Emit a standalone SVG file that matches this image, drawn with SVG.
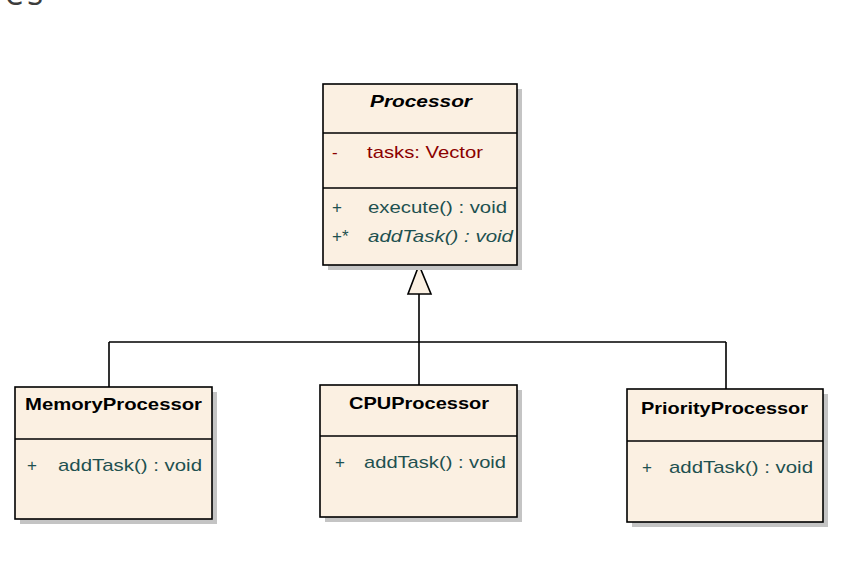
<svg xmlns="http://www.w3.org/2000/svg" width="866" height="580" viewBox="0 0 866 580">
<style>
.sh{fill:#c4c4c4}
.box{fill:#fbf0e2;stroke:#000;stroke-width:1.6}
.div{stroke:#000;stroke-width:1.4}
.t{font-family:"Liberation Sans",Arial,sans-serif;font-weight:bold;font-size:17px;fill:#000;text-anchor:middle}
.m{font-family:"Liberation Sans",Arial,sans-serif;font-size:17px;fill:#1e5050}
.a{font-family:"Liberation Sans",Arial,sans-serif;font-size:17px;fill:#8b0000}
.ln{stroke:#000;stroke-width:1.6;fill:none}
</style>
<text x="5" y="5" font-family="'Open Sans',sans-serif" font-size="34" letter-spacing="3" fill="#3c3c3c">es</text>
<g id="connectors">
<path class="ln" d="M419 294 V385 M109 342 H726 M109 342 V387 M726 342 V389"/>
<polygon points="419,265 408,294 431,294" fill="#fbf0e2" stroke="#000" stroke-width="1.6"/>
</g>
<g id="Processor">
<rect class="sh" x="328" y="89" width="194" height="181"/>
<rect class="box" x="323" y="84" width="194" height="181"/>
<line class="div" x1="323" y1="133" x2="517" y2="133"/>
<line class="div" x1="323" y1="188" x2="517" y2="188"/>
<text class="t" x="421" y="107" font-style="italic" textLength="102" lengthAdjust="spacingAndGlyphs">Processor</text>
<text class="a" x="332" y="158">-</text>
<text class="a" x="367" y="158" textLength="116" lengthAdjust="spacingAndGlyphs">tasks:  Vector</text>
<text class="m" x="332" y="213">+</text>
<text class="m" x="368" y="213" textLength="139" lengthAdjust="spacingAndGlyphs">execute() : void</text>
<text class="m" x="332" y="242">+*</text>
<text class="m" x="368" y="242" font-style="italic" textLength="145" lengthAdjust="spacingAndGlyphs">addTask() : void</text>
</g>
<g id="MemoryProcessor">
<rect class="sh" x="20" y="392" width="197" height="132"/>
<rect class="box" x="15" y="387" width="197" height="132"/>
<line class="div" x1="15" y1="439" x2="212" y2="439"/>
<text class="t" x="113.5" y="410" textLength="177" lengthAdjust="spacingAndGlyphs">MemoryProcessor</text>
<text class="m" x="27" y="471">+</text>
<text class="m" x="58" y="471" textLength="144" lengthAdjust="spacingAndGlyphs">addTask() : void</text>
</g>
<g id="CPUProcessor">
<rect class="sh" x="325" y="390" width="197" height="132"/>
<rect class="box" x="320" y="385" width="197" height="132"/>
<line class="div" x1="320" y1="436" x2="517" y2="436"/>
<text class="t" x="419" y="409" textLength="140" lengthAdjust="spacingAndGlyphs">CPUProcessor</text>
<text class="m" x="335" y="468">+</text>
<text class="m" x="364" y="468" textLength="142" lengthAdjust="spacingAndGlyphs">addTask() : void</text>
</g>
<g id="PriorityProcessor">
<rect class="sh" x="632" y="394" width="196" height="133"/>
<rect class="box" x="627" y="389" width="196" height="133"/>
<line class="div" x1="627" y1="441" x2="823" y2="441"/>
<text class="t" x="724.5" y="414" textLength="167" lengthAdjust="spacingAndGlyphs">PriorityProcessor</text>
<text class="m" x="642" y="473">+</text>
<text class="m" x="669" y="473" textLength="144" lengthAdjust="spacingAndGlyphs">addTask() : void</text>
</g>
</svg>
